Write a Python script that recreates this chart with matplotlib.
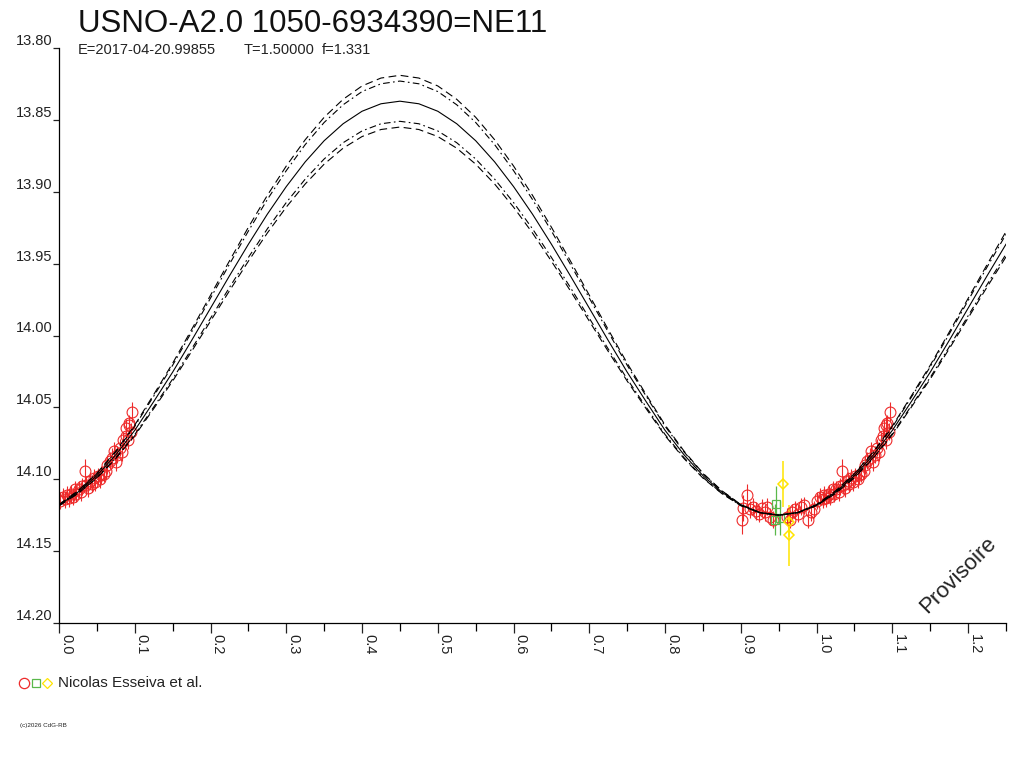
import matplotlib
matplotlib.use("Agg")

import numpy as np
import matplotlib.pyplot as plt
from matplotlib.lines import Line2D
from matplotlib.ticker import MultipleLocator, FormatStrFormatter

plt.rcParams["font.family"] = ["Liberation Sans", "DejaVu Sans"]

# --- Texts ---
TITLE = "USNO-A2.0 1050-6934390=NE11"
EPOCH_TXT = "E=2017-04-20.99855"
PERIOD_TXT = "T=1.50000"
FREQ_TXT = "f=1.331"
OBSERVER = "Nicolas Esseiva et al."
COPYRIGHT = "(c)2026 CdG-RB"
STAMP = "Provisoire"

FIT_PHASE = [
    0.000, 0.025, 0.050, 0.075, 0.100, 0.125, 0.150, 0.175, 0.200, 0.225,
    0.250, 0.275, 0.300, 0.325, 0.350, 0.375, 0.400, 0.425, 0.450, 0.475,
    0.500, 0.525, 0.550, 0.575, 0.600, 0.625, 0.650, 0.675, 0.700, 0.725,
    0.750, 0.775, 0.800, 0.825, 0.850, 0.875, 0.900, 0.925, 0.950, 0.975,
    1.000, 1.025, 1.050, 1.075, 1.100, 1.125, 1.150, 1.175, 1.200, 1.225,
    1.250,
]
FIT_MAG = [
    14.1180, 14.1090, 14.0975, 14.0830, 14.0660, 14.0460, 14.0255, 14.0035, 13.9810, 13.9585,
    13.9365, 13.9156, 13.8964, 13.8792, 13.8645, 13.8527, 13.8440, 13.8388, 13.8370, 13.8388,
    13.8440, 13.8527, 13.8645, 13.8792, 13.8964, 13.9156, 13.9365, 13.9585, 13.9810, 14.0035,
    14.0255, 14.0460, 14.0660, 14.0830, 14.0975, 14.1090, 14.1180, 14.1232, 14.1250, 14.1232,
    14.1180, 14.1090, 14.0975, 14.0830, 14.0660, 14.0460, 14.0255, 14.0035, 13.9810, 13.9585,
    13.9365,
]
# half-width of the outer (dashed) and inner (dash-dot) envelopes
SPREAD_DASHED = [
    0.0004, 0.0010, 0.0017, 0.0026, 0.0037, 0.0049, 0.0062, 0.0076, 0.0090, 0.0104,
    0.0118, 0.0131, 0.0143, 0.0154, 0.0163, 0.0170, 0.0176, 0.0179, 0.0180, 0.0179,
    0.0176, 0.0170, 0.0163, 0.0154, 0.0143, 0.0131, 0.0118, 0.0104, 0.0090, 0.0076,
    0.0062, 0.0049, 0.0037, 0.0026, 0.0017, 0.0010, 0.0004, 0.0001, 0.0000, 0.0001,
    0.0004, 0.0009, 0.0015, 0.0022, 0.0030, 0.0039, 0.0048, 0.0058, 0.0068, 0.0078,
    0.0088,
]
SPREAD_DASHDOT = [
    0.0003, 0.0008, 0.0013, 0.0020, 0.0029, 0.0038, 0.0048, 0.0059, 0.0070, 0.0081,
    0.0092, 0.0102, 0.0111, 0.0120, 0.0127, 0.0132, 0.0137, 0.0139, 0.0140, 0.0139,
    0.0137, 0.0132, 0.0127, 0.0120, 0.0111, 0.0102, 0.0092, 0.0081, 0.0070, 0.0059,
    0.0048, 0.0038, 0.0029, 0.0020, 0.0013, 0.0008, 0.0003, 0.0001, 0.0000, 0.0001,
    0.0003, 0.0007, 0.0011, 0.0017, 0.0023, 0.0030, 0.0037, 0.0045, 0.0053, 0.0061,
    0.0069,
]

# --- Measurements, phase folded into [0, 1) ---
RED_PHASE = [
    0.001, 0.005, 0.008, 0.010, 0.013, 0.016, 0.018, 0.021, 0.023, 0.026,
    0.029, 0.031, 0.034, 0.035, 0.038, 0.041, 0.043, 0.046, 0.048, 0.051,
    0.054, 0.056, 0.059, 0.062, 0.064, 0.067, 0.070, 0.072, 0.075, 0.077,
    0.080, 0.083, 0.085, 0.088, 0.089, 0.091, 0.092, 0.093, 0.095, 0.097,
    0.901, 0.903, 0.908, 0.912, 0.916, 0.920, 0.924, 0.928, 0.932, 0.935,
    0.938, 0.942, 0.961, 0.965, 0.968, 0.972, 0.976, 0.980, 0.984, 0.988,
    0.992, 0.996,
]
RED_MAG = [
    14.115, 14.112, 14.114, 14.111, 14.113, 14.110, 14.112, 14.107, 14.110, 14.107,
    14.109, 14.105, 14.094, 14.104, 14.106, 14.101, 14.103, 14.099, 14.102, 14.098,
    14.100, 14.097, 14.096, 14.094, 14.090, 14.087, 14.085, 14.080, 14.088, 14.083,
    14.078, 14.081, 14.073, 14.070, 14.064, 14.073, 14.062, 14.061, 14.067, 14.053,
    14.128, 14.120, 14.111, 14.121, 14.119, 14.122, 14.124, 14.120, 14.123, 14.119,
    14.126, 14.128, 14.126, 14.128, 14.123, 14.121, 14.124, 14.119, 14.118, 14.128,
    14.123, 14.121,
]
RED_ERR = [
    0.006, 0.006, 0.006, 0.006, 0.006, 0.006, 0.006, 0.006, 0.006, 0.006,
    0.006, 0.006, 0.008, 0.006, 0.006, 0.006, 0.006, 0.006, 0.006, 0.006,
    0.006, 0.006, 0.006, 0.006, 0.006, 0.006, 0.007, 0.006, 0.006, 0.006,
    0.006, 0.006, 0.006, 0.006, 0.006, 0.006, 0.006, 0.006, 0.006, 0.007,
    0.010, 0.009, 0.008, 0.006, 0.006, 0.006, 0.006, 0.006, 0.006, 0.006,
    0.006, 0.006, 0.006, 0.006, 0.006, 0.006, 0.006, 0.006, 0.006, 0.006,
    0.006, 0.006,
]

GREEN_PHASE = [0.947, 0.945, 0.952]
GREEN_MAG = [14.117, 14.128, 14.127]
GREEN_ERR = [0.012, 0.011, 0.012]

YELLOW_PHASE = [0.956, 0.963, 0.964]
YELLOW_MAG = [14.1035, 14.130, 14.139]
YELLOW_ERR = [0.016, 0.010, 0.021]

RED = "#ee2b2b"
GREEN = "#5ab84a"
YELLOW = "#ffe400"

X_MAX = 1.25


def unfold(phase, mag, err):
    # each point is drawn at phase and phase+1 when it falls inside the plot
    p = np.asarray(phase)
    m = np.asarray(mag)
    e = np.asarray(err)
    p2 = p + 1.0
    keep = p2 <= X_MAX
    return (np.concatenate([p, p2[keep]]),
            np.concatenate([m, m[keep]]),
            np.concatenate([e, e[keep]]))


fig = plt.figure(figsize=(10.24, 7.68), dpi=100)
ax = fig.add_axes([59 / 1024, 1 - 623 / 768, (1006 - 59) / 1024, (623 - 48) / 768])

# --- Measurements ---
for phase, mag, err, color, marker, ms, lw in [
    (RED_PHASE, RED_MAG, RED_ERR, RED, "o", 7.8, 0.8),
    (GREEN_PHASE, GREEN_MAG, GREEN_ERR, GREEN, "s", 5.8, 0.9),
    (YELLOW_PHASE, YELLOW_MAG, YELLOW_ERR, YELLOW, "D", 5.6, 1.1),
]:
    x, y, e = unfold(phase, mag, err)
    ax.errorbar(x, y, yerr=e, fmt=marker, ms=ms, mfc="none", mec=color,
                mew=lw, ecolor=color, elinewidth=lw, capsize=0, zorder=2)

# --- Fitted curve and envelopes ---
fit_p = np.asarray(FIT_PHASE)
fit_m = np.asarray(FIT_MAG)
sd = np.asarray(SPREAD_DASHED)
sc = np.asarray(SPREAD_DASHDOT)
ax.plot(fit_p, fit_m, color="black", lw=0.8, zorder=3)
for sign in (-1, 1):
    ax.plot(fit_p, fit_m + sign * sd, color="black", lw=0.8,
            ls=(0, (7, 4)), zorder=3)
    ax.plot(fit_p, fit_m + sign * sc, color="black", lw=0.8,
            ls=(0, (6, 3, 1.5, 3)), zorder=3)

# --- Axes ---
ax.set_xlim(0, X_MAX)
ax.set_ylim(14.20, 13.80)
ax.xaxis.set_major_locator(MultipleLocator(0.1))
ax.xaxis.set_minor_locator(MultipleLocator(0.05))
ax.xaxis.set_major_formatter(FormatStrFormatter("%.1f"))
ax.yaxis.set_major_locator(MultipleLocator(0.05))
ax.yaxis.set_major_formatter(FormatStrFormatter("%.2f"))

for side in ("top", "right"):
    ax.spines[side].set_visible(False)
for side in ("left", "bottom"):
    ax.spines[side].set_linewidth(0.9)

ax.tick_params(axis="x", which="major", direction="out", length=7.2,
               width=0.9, pad=0.5, labelsize=10.5, colors="#222222")
ax.tick_params(axis="x", which="minor", direction="out", length=5.8, width=0.9)
ax.tick_params(axis="y", which="major", direction="out", length=4.6,
               width=0.9, pad=0.2, labelsize=10.5, colors="#222222")
for lbl in ax.get_xticklabels():
    lbl.set_rotation(-90)
    lbl.set_ha("left")
    lbl.set_va("top")
for lbl in ax.get_yticklabels():
    lbl.set_va("bottom")

# --- Header, stamp, legend ---
fig.text(78 / 1024, 1 - 32 / 768, TITLE, fontsize=22.5, va="baseline", color="#111111")
fig.text(78 / 1024, 1 - 54 / 768, EPOCH_TXT, fontsize=10.5, va="baseline", color="#222222")
fig.text(244 / 1024, 1 - 54 / 768, PERIOD_TXT, fontsize=10.5, va="baseline", color="#222222")
fig.text(322 / 1024, 1 - 54 / 768, FREQ_TXT, fontsize=10.5, va="baseline", color="#222222")

fig.text(958 / 1024, 1 - 575 / 768, STAMP, fontsize=16, rotation=45,
         ha="center", va="center", color="#222222")

for xpix, color, marker, ms in [(24, RED, "o", 7.4), (36, GREEN, "s", 5.6), (47, YELLOW, "D", 5.0)]:
    fig.add_artist(Line2D([xpix / 1024], [1 - 683 / 768], marker=marker, ms=ms,
                          mfc="none", mec=color, mew=0.9, ls="none",
                          transform=fig.transFigure))
fig.text(58 / 1024, 1 - 683 / 768, OBSERVER, fontsize=11, va="center", color="#222222")
fig.text(20 / 1024, 1 - 725 / 768, COPYRIGHT, fontsize=4.5, va="center", color="#222222")

fig.savefig("out.png", dpi=100)
plt.close(fig)
